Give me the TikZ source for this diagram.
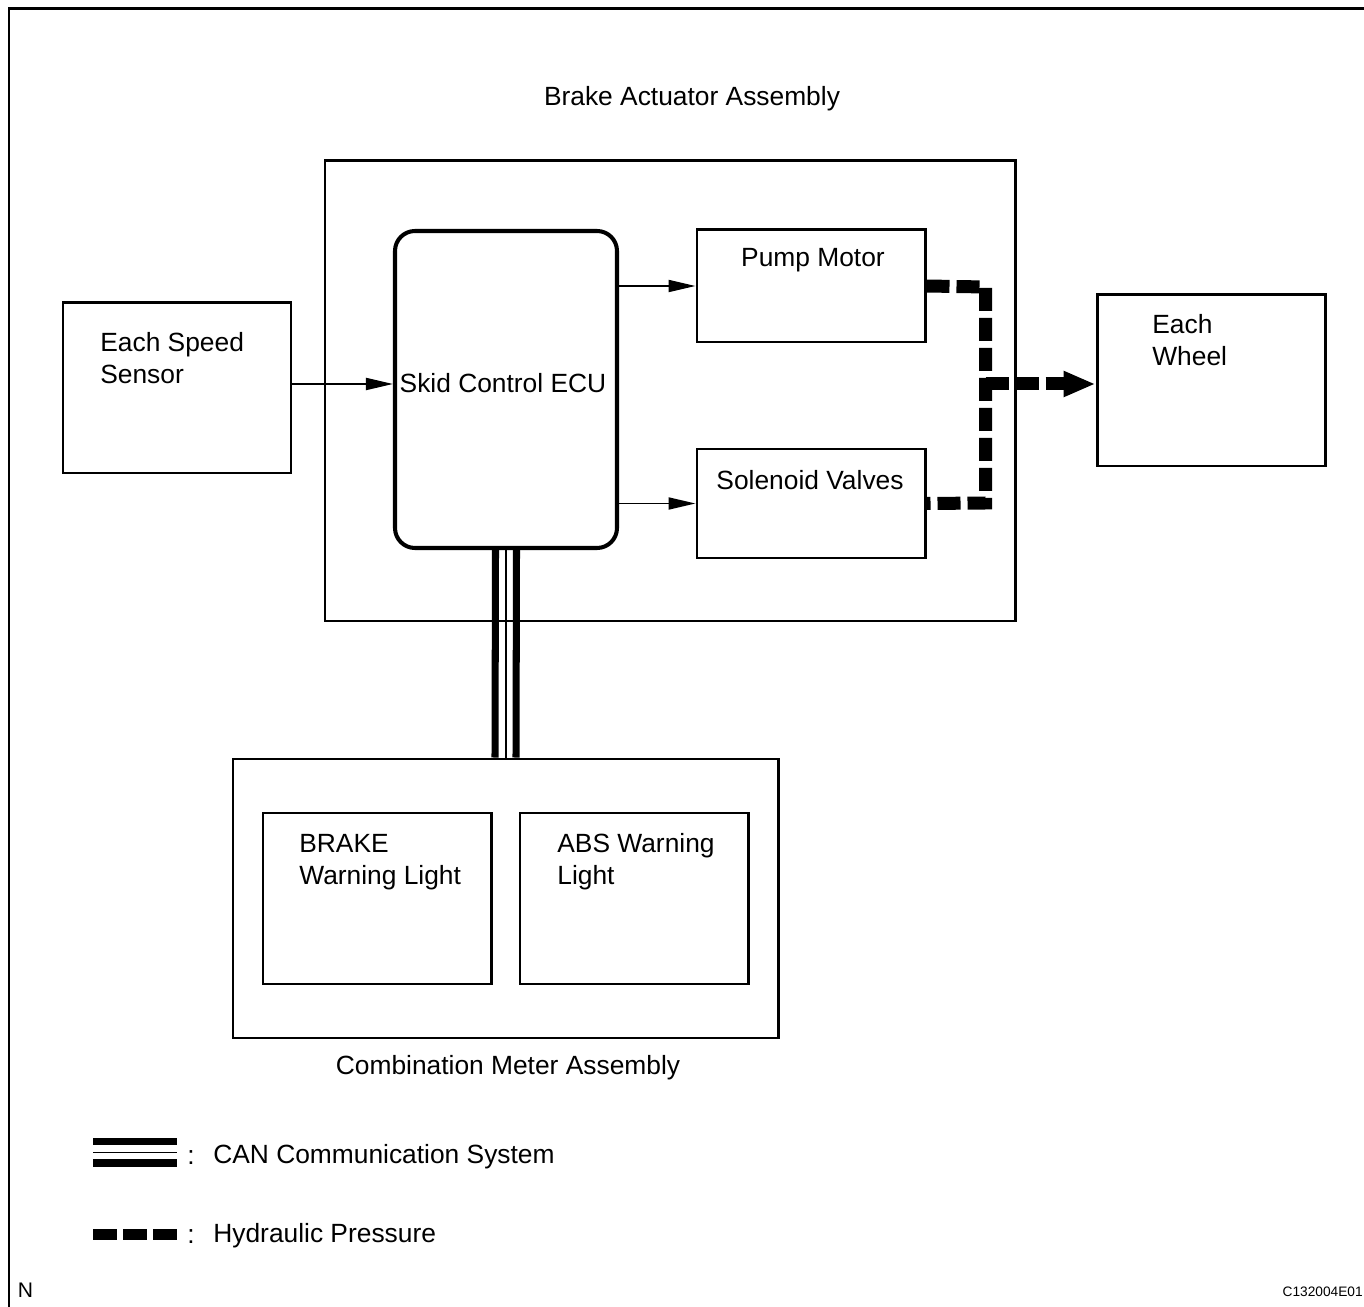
\documentclass[tikz,border=0pt]{standalone}
\usepackage{fontspec}
\setmainfont{Liberation Sans}
\usetikzlibrary{arrows.meta,positioning,calc}

\begin{document}
\begin{tikzpicture}[x=0.2mm,y=-0.2mm,>={Triangle[length=5.4mm,width=2.4mm]},
	box/.style={draw,line width=1.7pt,minimum width=45.6mm,inner sep=0},
	txt/.style={inner sep=0,font=\fontsize{15}{18.2}\selectfont,align=left},
	sig/.style={->,line width=1.1pt},
	hyd/.style={line width=2.6mm,dash pattern=on 4.6mm off 1.4mm},
	can/.style={line width=4pt}]
	\useasboundingbox (0,0) rectangle (1364,1307);
	%\draw [help lines] (0,0) grid (1364,1307);
	\draw [line width=1.7pt] (9,1307) -- (9,9) -- (1364,9);
	% brake actuator
	\node [txt] (acttxt) at (692,99) {Brake Actuator Assembly};
	\node [box, minimum width=138mm, minimum height=92mm] (act) at (670,391) {};
	\node [draw, line width=2.3pt, rounded corners=4mm, minimum width=44.4mm, minimum height=63.4mm] (ecu) at (506,389.5) {};
	\node [txt] (ecutxt) at (503,383) {Skid Control ECU};
	\node [box, minimum height=22.4mm] (pump) at (811,286) {};
	\node [txt] (pumptxt) at (813,260) {Pump Motor};
	\node [box, minimum height=21.8mm] (sol) at (811,503.5) {};
	\node [txt] (soltxt) at (810,480) {Solenoid Valves};
	% outside
	\node [box, minimum height=34mm] (sensor) at (177,388) {};
	\node [txt, anchor=west] (sensortxt) at (100,358) {Each Speed\\Sensor};
	\node [box, minimum height=34.2mm] (wheel) at (1211,380.5) {};
	\node [txt, anchor=west] (wheeltxt) at (1152,340) {Each\\Wheel};
	% combination meter
	\node [box, minimum width=109mm, minimum height=55.8mm] (meter) at (505.5,898.5) {};
	\node [box, minimum height=34.2mm] (brake) at (377,898.5) {};
	\node [txt, anchor=west] (braketxt) at (299,862.5) {BRAKE\\Warning Light};
	\node [box, minimum height=34.2mm] (abs) at (634,898.5) {};
	\node [txt, anchor=west] (abstxt) at (557,862) {ABS Warning\\Light};
	\node [txt] (metertxt) at (508,1068) {Combination Meter Assembly};
	% signals
	\draw [sig] (sensor.east |- 0,384) -- (ecu.west |- 0,384);
	\draw [sig] (ecu.east |- pump.west) -- (pump.west);
	\draw [sig] (ecu.east |- sol.west) -- (sol.west);
	% hydraulic
	\coordinate (hj) at (985.5,384);
	\draw [hyd] (pump.east) -- (985.5,287) -- (985.5,503) -- (sol.east);
	\draw [hyd, -{Triangle[length=6.4mm,width=4.8mm]}] (hj) -- (wheel.west |- hj);
	% CAN
	\draw [can] ([xshift=-2.1mm]ecu.south) -- ([xshift=-2.1mm]meter.north);
	\draw [line width=1.4pt] (ecu.south) -- (meter.north -| ecu.south);
	\draw [can] ([xshift=2.1mm]ecu.south) -- ([xshift=2.1mm]meter.north);
	% legend
	\draw [line width=4pt] (93,1141.5) -- (177,1141.5);
	\draw [line width=1.1pt] (93,1152.5) -- (177,1152.5);
	\draw [line width=4.4pt] (93,1163) -- (177,1163);
	\node [txt] (cancol) at (191,1157.5) {:};
	\node [txt, anchor=west] (cantxt) at (213,1157) {CAN Communication System};
	\draw [line width=2.2mm, dash pattern=on 4.8mm off 1.2mm] (93,1234) -- (177,1234);
	\node [txt] (hydcol) at (191,1236.5) {:};
	\node [txt, anchor=west] (hydtxt) at (213,1236) {Hydraulic Pressure};
	\node [inner sep=0, font=\fontsize{12}{14}\selectfont] (ntxt) at (25.5,1290.5) {N};
	\node [inner sep=0, anchor=east, font=\fontsize{7.8}{9}\selectfont] (code) at (1363,1292) {C132004E01};
\end{tikzpicture}
\end{document}
